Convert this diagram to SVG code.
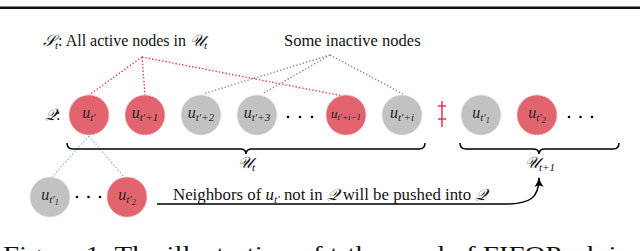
<svg xmlns="http://www.w3.org/2000/svg" width="640" height="251" viewBox="0 0 640 251" font-family="'Liberation Serif', 'DejaVu Serif', serif">
<defs>
<style>
text{font-family:"Liberation Serif","DejaVu Serif",serif;fill:#111}
.lbl{font-size:16px}
.m{font-style:italic}
.nr{fill:#e2646f;stroke:#f6c6cc;stroke-width:1;stroke-dasharray:2 1}
.ng{fill:#c2c2c2;stroke:#e8e8e8;stroke-width:1;stroke-dasharray:2 1}
.u{font-size:16px;font-style:italic;text-anchor:middle;fill:#222}
.s{font-size:11px}
.red{stroke:#e8354d;stroke-width:1.4;stroke-dasharray:1.4 2;fill:none}
.gray{stroke:#8c8c8c;stroke-width:1.4;stroke-dasharray:1.4 2;fill:none}
.blue{stroke:#8fb8ea;stroke-width:1.4;stroke-dasharray:1.4 2;fill:none}
.brace{stroke:#000;stroke-width:1.5;fill:none}
.dot{fill:#000}
</style>
<marker id="ah" viewBox="0 0 10 10" refX="9" refY="5" markerWidth="10" markerHeight="10" markerUnits="userSpaceOnUse" orient="auto">
<path d="M0,0.5 Q5,4 10,5 Q5,6 0,9.5 Q3,5 0,0.5 Z" fill="#000"/>
</marker>
</defs>

<rect width="640" height="251" fill="#fff"/>
<rect x="0" y="6.5" width="640" height="2.5" fill="#111"/>

<g id="labels">
<text class="lbl" x="43" y="46"><tspan class="m">𝒮</tspan><tspan class="m s" dy="3">t</tspan><tspan dy="-3">: All active nodes in </tspan><tspan class="m">𝒰</tspan><tspan class="m s" dy="3">t</tspan></text>
<text class="lbl" x="284" y="46" font-size="16.5" style="font-size:16.5px">Some inactive nodes</text>
<text class="lbl" x="45" y="120"><tspan class="m">𝒬</tspan>:</text>
</g>

<g id="connectors">
<path class="red" d="M142,57 L89,95 M142,57 L145,95 M142,57 L343,96"/>
<path class="gray" d="M330,55 L203,94 M330,55 L262,94 M330,55 L403,94"/>
<path class="blue" d="M89,136 L52,177 M89,136 L124,177"/>
<path d="M157,204 L505,204 C530,204 539,198 539,178" fill="none" stroke="#000" stroke-width="1.5" marker-end="url(#ah)"/>
</g>

<g id="n-t0"><circle class="nr" cx="89" cy="115" r="20"/><text class="u" x="89" y="118">u<tspan class="s" dy="3">t′</tspan></text></g>
<g id="n-t1"><circle class="nr" cx="145" cy="115" r="20"/><text class="u" x="145" y="118">u<tspan class="s" dy="3">t′+1</tspan></text></g>
<g id="n-t2"><circle class="ng" cx="201" cy="115" r="20"/><text class="u" x="201" y="118">u<tspan class="s" dy="3">t′+2</tspan></text></g>
<g id="n-t3"><circle class="ng" cx="257" cy="115" r="20"/><text class="u" x="257" y="118">u<tspan class="s" dy="3">t′+3</tspan></text></g>
<g id="dots1"><circle class="dot" cx="288" cy="117" r="1.3"/><circle class="dot" cx="300" cy="117" r="1.3"/><circle class="dot" cx="312" cy="117" r="1.3"/></g>
<g id="n-ti1"><circle class="nr" cx="346" cy="115" r="20"/><text class="u" x="346" y="118" style="font-size:13px">u<tspan style="font-size:9px" dy="2">t′+i−1</tspan></text></g>
<g id="n-ti"><circle class="ng" cx="402" cy="115" r="20"/><text class="u" x="402" y="118">u<tspan class="s" dy="3">t′+i</tspan></text></g>
<g id="sep"><path d="M442,101 V127 M438,106 H446 M438,119 H446" stroke="#e8354d" stroke-width="1.5" fill="none"/></g>
<g id="n-p1"><circle class="ng" cx="481" cy="115" r="20"/><text class="u" x="481" y="118">u<tspan class="s" dy="3">t′</tspan><tspan style="font-size:8px" dy="2">1</tspan></text></g>
<g id="n-p2"><circle class="nr" cx="537" cy="115" r="20"/><text class="u" x="537" y="118">u<tspan class="s" dy="3">t′</tspan><tspan style="font-size:8px" dy="2">2</tspan></text></g>
<g id="dots2"><circle class="dot" cx="569" cy="117" r="1.3"/><circle class="dot" cx="580.5" cy="117" r="1.3"/><circle class="dot" cx="592" cy="117" r="1.3"/></g>

<g id="brace-ut">
<path class="brace" d="M67,143 Q67,149 73,149 L240,149 Q246,149 246,154 Q246,149 252,149 L419,149 Q425,149 425,143"/>
<text class="lbl" x="238" y="168"><tspan class="m">𝒰</tspan><tspan class="m s" dy="3">t</tspan></text>
</g>
<g id="brace-ut1">
<path class="brace" d="M460,143 Q460,149 466,149 L533,149 Q539,149 539,154 Q539,149 545,149 L613,149 Q619,149 619,143"/>
<text class="lbl" x="525" y="168"><tspan class="m">𝒰</tspan><tspan class="m s" dy="3">t+1</tspan></text>
</g>

<g id="n-q1"><circle class="ng" cx="50" cy="197" r="20"/><text class="u" x="50" y="200">u<tspan class="s" dy="3">t′</tspan><tspan style="font-size:8px" dy="2">1</tspan></text></g>
<g id="dots3"><circle class="dot" cx="77" cy="197" r="1.3"/><circle class="dot" cx="88.5" cy="197" r="1.3"/><circle class="dot" cx="100" cy="197" r="1.3"/></g>
<g id="n-q2"><circle class="nr" cx="127" cy="197" r="20"/><text class="u" x="127" y="200">u<tspan class="s" dy="3">t′</tspan><tspan style="font-size:8px" dy="2">2</tspan></text></g>

<g id="arrow-label">
<text class="lbl" x="173" y="200" textLength="314" lengthAdjust="spacingAndGlyphs">Neighbors of <tspan class="m">u</tspan><tspan class="m s" dy="3">t′</tspan><tspan dy="-3"> not in </tspan><tspan class="m">𝒬</tspan> will be pushed into <tspan class="m">𝒬</tspan></text>
</g>

<text x="3" y="262" style="font-size:24px" textLength="628" lengthAdjust="spacingAndGlyphs">Figure 1: The illustration of t-th round of FIFOPush in</text>
</svg>
